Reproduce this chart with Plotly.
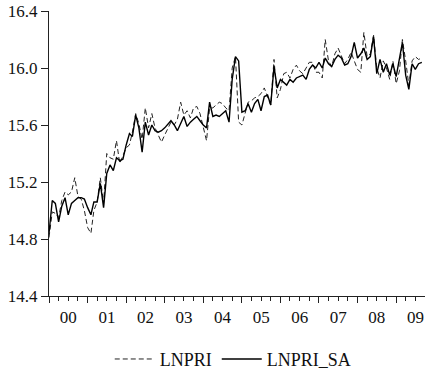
import pandas as pd
import plotly.graph_objects as go

start_month = "2000-01-01"
n_months = 117

lnpri = [
    14.81, 14.99, 14.98, 14.95, 15.07, 15.13, 15.11, 15.13, 15.23, 15.10, 15.08, 15.00,
    14.88, 14.84, 15.00, 15.06, 15.23, 15.05, 15.40, 15.37, 15.36, 15.49, 15.33, 15.38,
    15.44, 15.46, 15.55, 15.68, 15.61, 15.50, 15.72, 15.58, 15.68, 15.58, 15.53, 15.48,
    15.53, 15.58, 15.62, 15.60, 15.64, 15.76, 15.67, 15.70, 15.65, 15.72, 15.73, 15.68,
    15.59, 15.49, 15.72, 15.72, 15.74, 15.76, 15.75, 15.72, 15.70, 16.00, 16.08, 15.62,
    15.60, 15.68, 15.76, 15.77, 15.79, 15.80, 15.82, 15.86, 15.80, 15.74, 16.06, 15.79,
    15.85, 15.96, 15.97, 15.93, 15.99, 16.02, 15.98, 15.96, 16.00, 16.04, 16.04, 15.97,
    15.97, 15.93, 16.20, 16.05, 16.01, 16.10, 16.14, 16.08, 16.03, 16.06, 16.11, 16.05,
    15.99, 15.97, 16.25, 16.08, 16.10, 16.23, 16.00, 15.93, 16.05, 16.00, 15.92, 16.05,
    15.89, 15.98, 16.20, 16.05, 15.88, 16.05, 16.08, 16.06, 16.07,
]

lnpri_sa = [
    14.84, 15.07, 15.05, 14.92, 15.03, 15.09, 14.97, 15.05, 15.07, 15.09, 15.09, 15.08,
    15.02, 14.97, 15.06, 15.06, 15.19, 15.02, 15.26, 15.32, 15.28, 15.37, 15.35, 15.36,
    15.46, 15.54, 15.52, 15.67, 15.58, 15.41, 15.62, 15.53, 15.60, 15.56, 15.55, 15.56,
    15.58, 15.61, 15.63, 15.60, 15.56, 15.61, 15.66, 15.59, 15.62, 15.64, 15.66, 15.63,
    15.60, 15.58, 15.76, 15.66, 15.67, 15.66, 15.68, 15.70, 15.62, 15.92, 16.08, 16.05,
    15.69, 15.70, 15.75, 15.69, 15.75, 15.78, 15.70, 15.80, 15.81, 15.74, 16.01, 15.86,
    15.92, 15.90, 15.88, 15.92, 15.90, 15.93, 15.94, 15.95, 15.92, 15.99, 16.02, 16.00,
    16.04, 16.00, 16.07, 16.03, 16.01, 16.06, 16.09, 16.07, 16.02, 16.03, 16.08, 16.18,
    16.07, 16.10, 16.14, 16.06, 16.08, 16.22, 15.96, 16.06, 15.97, 16.03, 15.95, 16.03,
    15.94, 16.06, 16.18, 15.95, 15.85, 16.03, 15.99, 16.03, 16.04,
]

y_ticks = [14.4, 14.8, 15.2, 15.6, 16.0, 16.4]

dates = pd.date_range(start_month, periods=n_months, freq="MS")

font_family = "Liberation Serif"

fig = go.Figure()
fig.add_trace(go.Scatter(
    x=dates, y=lnpri, mode="lines", name="LNPRI",
    line=dict(color="#222222", width=1, dash="5px,3px"),
))
fig.add_trace(go.Scatter(
    x=dates, y=lnpri_sa, mode="lines", name="LNPRI_SA",
    line=dict(color="#000000", width=1.4),
))

fig.update_layout(
    width=425, height=371,
    margin=dict(l=49, r=0, t=11, b=75, autoexpand=False),
    paper_bgcolor="white", plot_bgcolor="white",
    font=dict(family=font_family, size=17, color="#111111"),
    showlegend=True,
    legend=dict(
        orientation="h", x=0.49, xanchor="center", y=-0.222, yanchor="middle",
        font=dict(family=font_family, size=18), itemwidth=40,
        bgcolor="rgba(0,0,0,0)",
    ),
)

fig.update_xaxes(
    type="date",
    range=["2000-01-01", "2009-10-01"],
    tick0="2000-01-01", dtick="M12", tickformat="%y",
    ticklabelmode="period",
    ticks="outside", ticklen=6, tickcolor="#222", tickwidth=1,
    minor=dict(dtick="M3", tick0="2000-01-01", ticks="outside", ticklen=4,
               tickcolor="#222", tickwidth=1, showgrid=False),
    showline=True, linecolor="#222", linewidth=1,
    showgrid=False, zeroline=False,
    tickfont=dict(family=font_family, size=17),
)
fig.update_yaxes(
    range=[14.4, 16.4],
    tickvals=y_ticks, tickformat=".1f",
    ticks="outside", ticklen=7, tickcolor="#222", tickwidth=1,
    showline=True, linecolor="#222", linewidth=1,
    showgrid=False, zeroline=False,
    tickfont=dict(family=font_family, size=17),
)

fig.write_html("out.html")
